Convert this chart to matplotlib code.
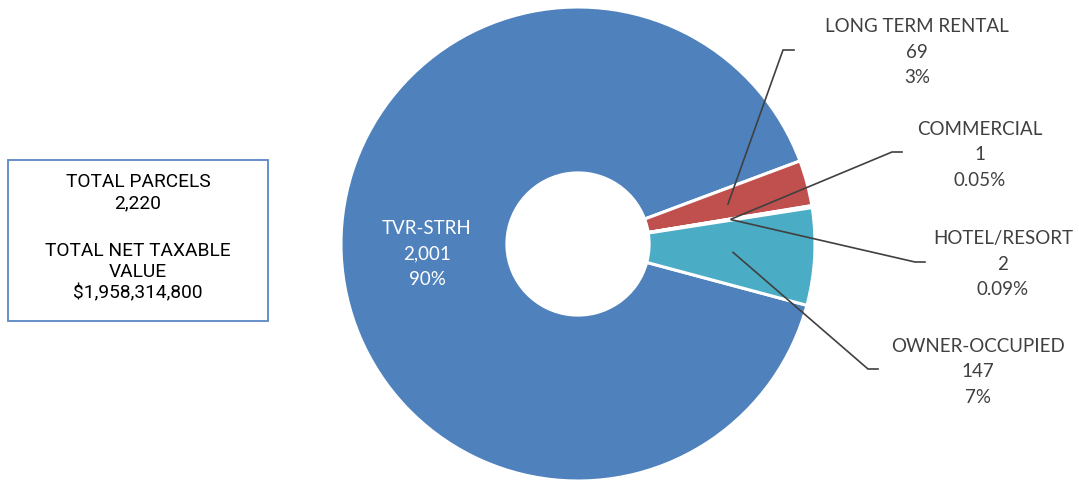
import numpy as np
import matplotlib
matplotlib.use("Agg")
import matplotlib.pyplot as plt
from matplotlib.patches import Rectangle

# Parcel counts by use category
categories = ["TVR-STRH", "LONG TERM RENTAL", "COMMERCIAL", "HOTEL/RESORT", "OWNER-OCCUPIED"]
parcels = [2001, 69, 1, 2, 147]
pct_labels = ["90%", "3%", "0.05%", "0.09%", "7%"]
colors = ["#4F81BD", "#C0504D", "#9BBB59", "#8064A2", "#4BACC6"]

total_parcels = "2,220"
total_value = "$1,958,314,800"

W, H = 1079, 481
fig = plt.figure(figsize=(W / 100, H / 100), dpi=100)
ax = fig.add_axes([0, 0, 1, 1])

cx, cy, R = 578, H - 245, 237
start = -15
wedges, _ = ax.pie(parcels, colors=colors, startangle=start, counterclock=False,
                   radius=R, center=(cx, cy), frame=True,
                   wedgeprops=dict(width=R * 0.70, edgecolor="white", linewidth=2.2))
ax.set_xlim(0, W)
ax.set_ylim(0, H)
ax.set_aspect("equal")
ax.axis("off")

label_font = "Lato"
fs = 13.5
ls = 1.63
txt_color = "#404040"

def fmt(n):
    return f"{n:,}"

# Inside label for the dominant slice
ax.text(427, H - 254, f"{categories[0]}\n{fmt(parcels[0])}\n{pct_labels[0]}",
        ha="center", va="center", color="white", fontsize=fs,
        family=label_font, linespacing=ls)

# Callout labels for the small slices: (elbow x, elbow y, tail x, text x, text y)
callouts = {
    1: (783, 51, 794, 917, 52),
    2: (892, 153, 902, 980, 155),
    3: (915, 263, 925, 1003, 264),
    4: (868, 370, 878, 978, 372),
}

for i, w in enumerate(wedges):
    if i not in callouts:
        continue
    ex, ey, tx, lx, ly = callouts[i]
    mid = np.deg2rad((w.theta1 + w.theta2) / 2)
    sx = cx + 0.655 * R * np.cos(mid)
    sy = cy + 0.655 * R * np.sin(mid)
    ax.plot([sx, ex, tx], [sy, H - ey, H - ey], color="#404040", lw=1.2,
            solid_joinstyle="miter")
    ax.text(lx, H - ly, f"{categories[i]}\n{fmt(parcels[i])}\n{pct_labels[i]}",
            ha="center", va="center", color=txt_color, fontsize=fs,
            family=label_font, linespacing=ls)

# Summary box
ax.add_patch(Rectangle((8, H - 322), 260, 161, fill=False,
                       edgecolor="#5B86C5", lw=1.3))
ax.text(138, H - 192.5, f"TOTAL PARCELS\n{total_parcels}",
        ha="center", va="center", color="black", fontsize=13.8,
        family="Roboto", linespacing=1.22)
ax.text(138, H - 272.5, f"TOTAL NET TAXABLE\nVALUE\n{total_value}",
        ha="center", va="center", color="black", fontsize=13.8,
        family="Roboto", linespacing=1.22)

fig.savefig("out.png", dpi=100)
